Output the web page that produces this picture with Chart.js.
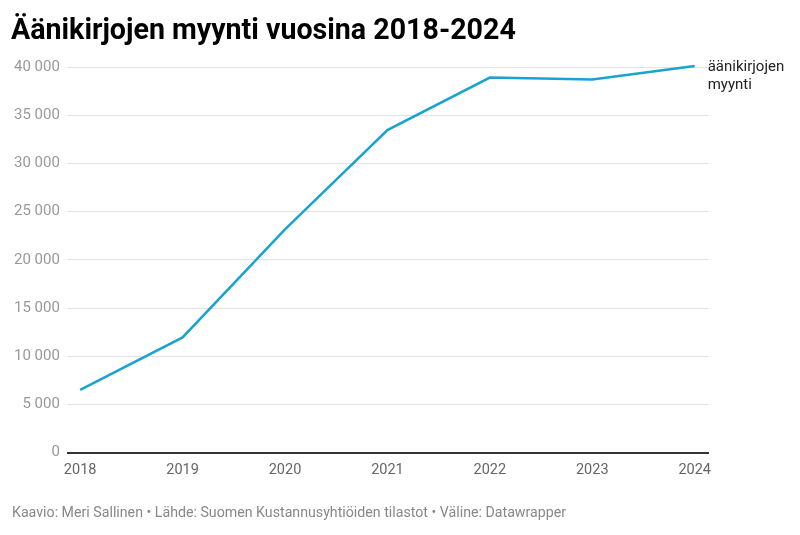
<!DOCTYPE html>
<html>
<head>
<meta charset="utf-8">
<script src="https://cdn.jsdelivr.net/npm/chart.js@4"></script>
<style>
  html, body { margin: 0; padding: 0; background: #fff; }
  #wrap { width: 800px; height: 535px; }
</style>
</head>
<body>
<div id="wrap"><canvas id="chart" width="800" height="535"></canvas></div>
<script>
const years = [2018, 2019, 2020, 2021, 2022, 2023, 2024]
const sales = [6500, 11950, 23150, 33450, 38900, 38700, 40100]
const yTicks = [0, 5000, 10000, 15000, 20000, 25000, 30000, 35000, 40000]
const seriesLabel = ['äänikirjojen', 'myynti']
const title = 'Äänikirjojen myynti vuosina 2018-2024'
const footer = 'Kaavio: Meri Sallinen • Lähde: Suomen Kustannusyhtiöiden tilastot • Väline: Datawrapper'

const lineColor = '#1aa3d1'

// otsikko, alateksti ja sarjan nimi viivan päähän
const textPlugin = {
  id: 'texts',
  afterDraw(chart) {
    const ctx = chart.ctx
    ctx.save()
    ctx.textBaseline = 'alphabetic'
    ctx.textAlign = 'left'
    ctx.fillStyle = '#000'
    ctx.font = 'bold 28.6px Roboto'
    ctx.fillText(title, 11, 39)

    ctx.fillStyle = '#888'
    ctx.font = '14.2px Roboto'
    ctx.fillText(footer, 12, 517)

    const meta = chart.getDatasetMeta(0)
    const last = meta.data[meta.data.length - 1]
    ctx.fillStyle = '#222'
    ctx.font = '15px Roboto'
    ctx.fillText(seriesLabel[0], last.x + 13, last.y + 5)
    ctx.fillText(seriesLabel[1], last.x + 13, last.y + 23)
    ctx.restore()
  }
}

const fmt = v => String(v).replace(/\B(?=(\d{3})+(?!\d))/g, ' ')

new Chart(document.getElementById('chart'), {
  type: 'line',
  data: {
    datasets: [{
      data: years.map((y, i) => ({ x: y, y: sales[i] })),
      borderColor: lineColor,
      borderWidth: 2.5,
      pointRadius: 0,
      tension: 0,
      clip: false
    }]
  },
  options: {
    responsive: false,
    animation: false,
    layout: { padding: { top: 67, left: 6, right: 92, bottom: 47 } },
    plugins: { legend: { display: false }, tooltip: { enabled: false } },
    scales: {
      x: {
        type: 'linear',
        min: 2017.88,
        max: 2024.13,
        afterBuildTicks: axis => { axis.ticks = years.map(v => ({ value: v })) },
        grid: { display: false, drawTicks: false },
        border: { display: true, color: '#333', width: 2 },
        ticks: {
          color: '#666',
          font: { family: 'Roboto', size: 14.5 },
          padding: 9,
          maxRotation: 0,
          callback: v => String(v)
        }
      },
      y: {
        min: 0,
        max: 40000,
        afterBuildTicks: axis => { axis.ticks = yTicks.map(v => ({ value: v })) },
        grid: { color: '#e3e3e3', lineWidth: 1, drawTicks: false },
        border: { display: false },
        ticks: {
          color: '#999',
          font: { family: 'Roboto', size: 15 },
          padding: 8,
          callback: v => fmt(v)
        }
      }
    }
  },
  plugins: [textPlugin]
})
</script>
</body>
</html>
